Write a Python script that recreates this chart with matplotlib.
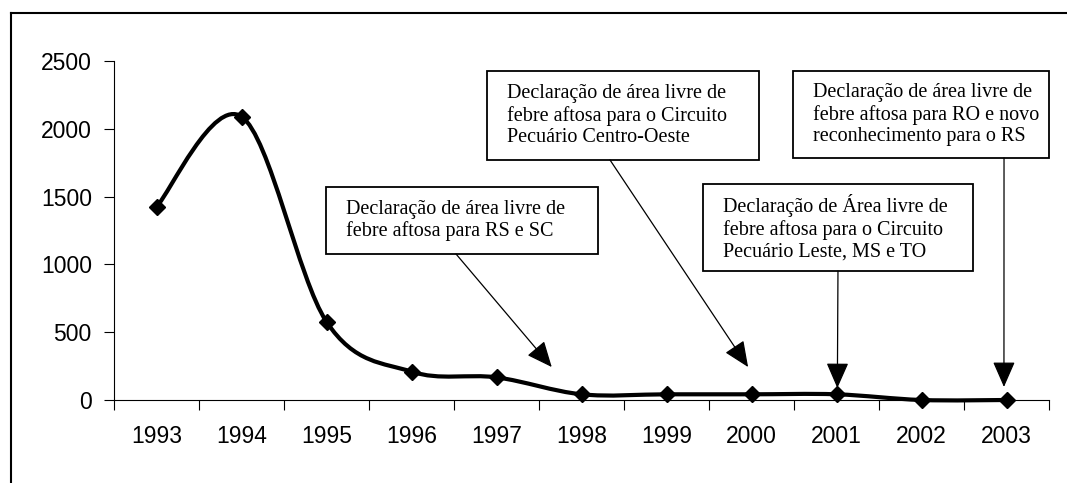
import numpy as np
import matplotlib
matplotlib.use("Agg")
import matplotlib.pyplot as plt
from matplotlib.path import Path
from matplotlib.patches import PathPatch, Rectangle
from matplotlib.lines import Line2D

# dados
anos = ["1993", "1994", "1995", "1996", "1997", "1998",
        "1999", "2000", "2001", "2002", "2003"]
focos = [1425, 2090, 577, 209, 167, 42, 42, 42, 42, 0, 0]

notas = [
    "Declaração de área livre de\nfebre aftosa para RS e SC",
    "Declaração de área livre de\nfebre aftosa para o Circuito\nPecuário Centro-Oeste",
    "Declaração de Área livre de\nfebre aftosa para o Circuito\nPecuário Leste, MS e TO",
    "Declaração de área livre de\nfebre aftosa para RO e novo\nreconhecimento para o RS",
]
# caixas (axes fraction): x0, y0, x1, y1
caixas = [
    (0.2267, 0.4307, 0.5176, 0.6283),
    (0.3989, 0.7080, 0.6898, 0.9705),
    (0.6300, 0.3805, 0.9187, 0.6372),
    (0.7262, 0.7139, 1.0000, 0.9705),
]
# inicio da seta (axes fraction) e ponta (dados)
seta_ini = [(0.3658, 0.4307), (0.5305, 0.7080), (0.7743, 0.3805), (0.9519, 0.7139)]
seta_fim = [(4.65, 243), (6.96, 243), (8.01, 88), (9.97, 96)]

SANS = "Liberation Sans"
SERIF = "Liberation Serif"

fig = plt.figure(figsize=(10.67, 4.83), dpi=100)
ax = fig.add_axes([114/1067, 83/483, 935/1067, 339/483])

# curva suavizada (bezier tipo Excel) a partir dos pontos
x = np.arange(len(focos), dtype=float)
y = np.array(focos, dtype=float)
pts = np.column_stack([x, y])
verts = [pts[0]]
codes = [Path.MOVETO]
n = len(pts)
for i in range(n - 1):
    p0 = pts[max(i - 1, 0)]
    p1 = pts[i]
    p2 = pts[i + 1]
    p3 = pts[min(i + 2, n - 1)]
    verts += [p1 + (p2 - p0) / 6, p2 - (p3 - p1) / 6, p2]
    codes += [Path.CURVE4] * 3
ax.add_patch(PathPatch(Path(verts, codes), fill=False, lw=3, ec="black",
                       capstyle="round", joinstyle="round", clip_on=False, zorder=3))
ax.plot(x, y, "D", color="black", ms=8.5, clip_on=False, zorder=4)

ax.set_xlim(-0.5, len(anos) - 0.5)
ax.set_ylim(0, 2500)
ax.spines["top"].set_visible(False)
ax.spines["right"].set_visible(False)
for s in ("left", "bottom"):
    ax.spines[s].set_linewidth(0.8)

ax.set_xticks(np.arange(-0.5, len(anos), 1))
ax.set_xticklabels([])
ax.set_xticks(x, minor=True)
ax.set_xticklabels(anos, minor=True, fontsize=16.5, family=SANS)
ax.tick_params(axis="x", which="major", length=7, width=0.8, direction="out")
ax.tick_params(axis="x", which="minor", length=0, pad=18)
ax.set_yticks(np.arange(0, 2501, 500))
ax.set_yticklabels([str(v) for v in range(0, 2501, 500)], fontsize=16.5, family=SANS)
ax.tick_params(axis="y", length=7, width=0.8, direction="out", pad=9)

# caixas de texto com setas
for txt, (x0, y0, x1, y1), ini, fim in zip(notas, caixas, seta_ini, seta_fim):
    ax.add_patch(Rectangle((x0, y0), x1 - x0, y1 - y0, transform=ax.transAxes,
                           fc="white", ec="black", lw=1.3, clip_on=False, zorder=5))
    ax.text(x0 + 0.0214, (y0 + y1) / 2, txt, transform=ax.transAxes,
            ha="left", va="center", fontsize=14.5, family=SERIF,
            linespacing=1.2, zorder=6)
    ax.annotate("", xy=fim, xycoords="data", xytext=ini, textcoords="axes fraction",
                arrowprops=dict(arrowstyle="-|>,head_length=0.8,head_width=0.35",
                                mutation_scale=20, lw=0.9, color="black",
                                shrinkA=0, shrinkB=0), zorder=5)

# moldura
fig.add_artist(Line2D([11/1067, 1], [1 - 13/483] * 2, transform=fig.transFigure,
                      color="black", lw=1.5))
fig.add_artist(Line2D([11/1067] * 2, [0, 1 - 13/483], transform=fig.transFigure,
                      color="black", lw=1.5))

fig.savefig("out.png", dpi=100)
